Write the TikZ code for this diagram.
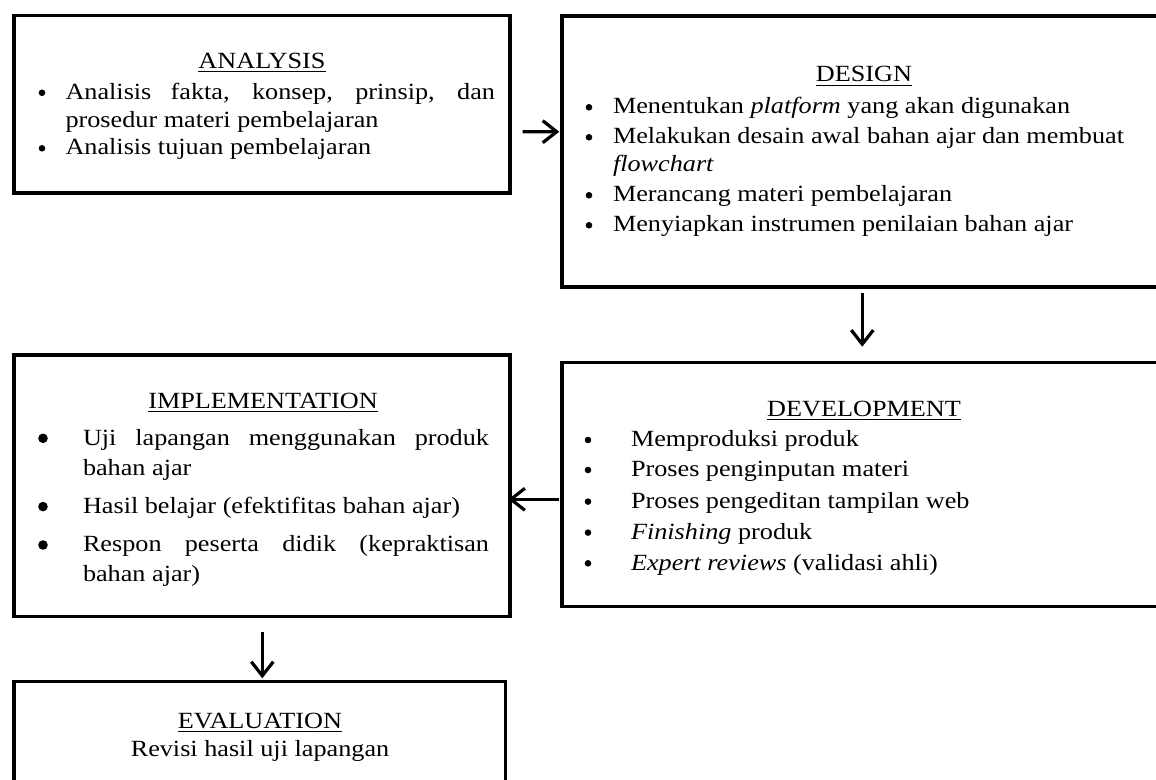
\documentclass[tikz,border=0pt]{standalone}
\usepackage{fontspec}
\setmainfont{Liberation Serif}[FakeStretch=1.13]
\usetikzlibrary{arrows.meta,calc}
\newcommand\bodyfont{\fontsize{11.6}{15}\selectfont}
\begin{document}
\begin{tikzpicture}[x=0.5pt,y=-0.5pt,
  box/.style={draw, line width=1.75pt, inner sep=0pt, outer sep=0pt},
  arr/.style={line width=1.6pt, -{Straight Barb[length=7pt,width=11pt,line width=1.6pt]}},
  txt/.style={anchor=base west, inner sep=0pt, outer sep=0pt, font=\bodyfont},
  head/.style={anchor=base, inner sep=0pt, outer sep=0pt, font=\bodyfont},
  dot/.style={circle, fill=black, minimum size=3.3pt, inner sep=0pt, outer sep=0pt},
  bigdot/.style={circle, fill=black, minimum size=4.8pt, inner sep=0pt, outer sep=0pt}]
\useasboundingbox (0,0) rectangle (1156,780);
\clip (0,0) rectangle (1156,780);
\fill[white] (0,0) rectangle (1156,780);

% boxes
\node[box, minimum width=248pt, minimum height=88.75pt] (analysis) at (262,104.25) {};
\node[box, minimum width=302pt, minimum height=135.5pt] (design) at (864,151.5) {};
\node[box, minimum width=302pt, minimum height=122pt] (development) at (864,484.7) {};
\node[box, minimum width=248pt, minimum height=130.85pt] (implementation) at (262,485.85) {};
\node[box, minimum width=245.85pt, minimum height=69.15pt] (evaluation) at (259.85,750.85) {};

% arrows
\draw[arr] ($(analysis.east)+(12.7,27.45)$) -- ($(design.west)+(-2.7,-19.8)$);
\draw[arr] ($(design.south)+(-1.7,6.3)$) -- ($(development.north)+(-1.7,-16)$);
\draw[arr] ($(development.west)+(-2.7,14.6)$) -- ($(implementation.east |- development.west)+(-1.7,14.6)$);
\draw[arr] ($(implementation.south)+(0.3,15)$) -- ($(implementation.south |- evaluation.north)+(0.3,-3.4)$);

% analysis text
\node[head] (ah) at (262,68.3) {\underline{ANALYSIS}};
\node[dot] (ab1) at (42,92.8) {};
\node[txt] (a1) at (65.5,99.5) {\makebox[214.75pt][s]{Analisis fakta, konsep, prinsip, dan}};
\node[txt] (a2) at (65.5,127.7) {prosedur materi pembelajaran};
\node[dot] (ab2) at (42,148.3) {};
\node[txt] (a3) at (65.5,155) {Analisis tujuan pembelajaran};

% design text
\node[head] (dh) at (864,82) {\underline{DESIGN}};
\node[dot] (db1) at (589,107.3) {};
\node[txt] (d1) at (613,114) {Menentukan \textit{platform} yang akan digunakan};
\node[dot] (db2) at (589,137.3) {};
\node[txt] (d2) at (613,144) {Melakukan desain awal bahan ajar dan membuat};
\node[txt] (d3) at (613,172) {\textit{flowchart}};
\node[dot] (db3) at (589,195.3) {};
\node[txt] (d4) at (613,202) {Merancang materi pembelajaran};
\node[dot] (db4) at (589,225.3) {};
\node[txt] (d5) at (613,232) {Menyiapkan instrumen penilaian bahan ajar};

% development text
\node[head] (vh) at (864,416) {\underline{DEVELOPMENT}};
\node[dot] (vb1) at (588,440) {};
\node[txt] (v1) at (631,446.7) {Memproduksi produk};
\node[dot] (vb2) at (588,470) {};
\node[txt] (v2) at (631,476.7) {Proses penginputan materi};
\node[dot] (vb3) at (588,501.6) {};
\node[txt] (v3) at (631,508.3) {Proses pengeditan tampilan web};
\node[dot] (vb4) at (588,532.6) {};
\node[txt] (v4) at (631,539.3) {\textit{Finishing} produk};
\node[dot] (vb5) at (588,563.3) {};
\node[txt] (v5) at (631,570) {\textit{Expert reviews} (validasi ahli)};

% implementation text
\node[head] (ih) at (263,408.3) {\underline{IMPLEMENTATION}};
\node[bigdot] (ib1) at (43,438.3) {};
\node[txt] (i1) at (83,445) {\makebox[203pt][s]{Uji lapangan menggunakan produk}};
\node[txt] (i2) at (83,475) {bahan ajar};
\node[bigdot] (ib2) at (43,506.6) {};
\node[txt] (i3) at (83,513.3) {Hasil belajar (efektifitas bahan ajar)};
\node[bigdot] (ib3) at (43,545) {};
\node[txt] (i4) at (83,551.7) {\makebox[203pt][s]{Respon peserta didik (kepraktisan}};
\node[txt] (i5) at (83,581.7) {bahan ajar)};

% evaluation text
\node[head] (eh) at (260,728.3) {\underline{EVALUATION}};
\node[head] (e1) at (260,756.7) {Revisi hasil uji lapangan};
\end{tikzpicture}
\end{document}
